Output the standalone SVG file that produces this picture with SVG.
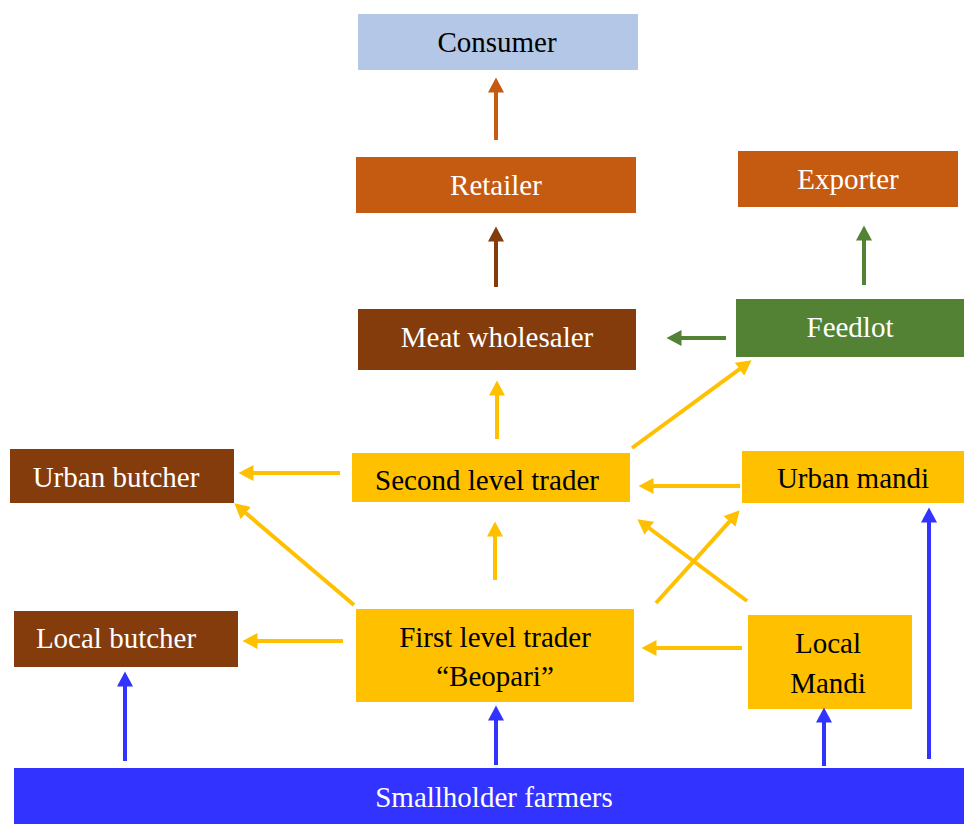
<svg xmlns="http://www.w3.org/2000/svg" width="964" height="824" viewBox="0 0 964 824">
<style>
text{font-family:"Liberation Serif","Times New Roman",serif;font-size:29px;text-anchor:middle}
.w{fill:#FFFFFF}.k{fill:#000000}
.c line{stroke-width:4;fill:none}
.o{stroke:#C55A11}.b{stroke:#843C0C}.g{stroke:#548235}.y{stroke:#FFC000}.u{stroke:#3333FF}
</style>
<defs>
<marker id="mo" markerUnits="userSpaceOnUse" markerWidth="16" markerHeight="16" refX="0.5" refY="8" orient="auto"><path d="M0,0 L15,8 L0,16 z" fill="#C55A11"/></marker>
<marker id="mb" markerUnits="userSpaceOnUse" markerWidth="16" markerHeight="16" refX="0.5" refY="8" orient="auto"><path d="M0,0 L15,8 L0,16 z" fill="#843C0C"/></marker>
<marker id="mg" markerUnits="userSpaceOnUse" markerWidth="16" markerHeight="16" refX="0.5" refY="8" orient="auto"><path d="M0,0 L15,8 L0,16 z" fill="#548235"/></marker>
<marker id="my" markerUnits="userSpaceOnUse" markerWidth="16" markerHeight="16" refX="0.5" refY="8" orient="auto"><path d="M0,0 L15,8 L0,16 z" fill="#FFC000"/></marker>
<marker id="mu" markerUnits="userSpaceOnUse" markerWidth="16" markerHeight="16" refX="0.5" refY="8" orient="auto"><path d="M0,0 L15,8 L0,16 z" fill="#3333FF"/></marker>
</defs>
<rect width="964" height="824" fill="#FFFFFF"/>
<g id="consumer"><rect x="358" y="14" width="280" height="56" fill="#B4C7E7"/><text class="k" x="497" y="52">Consumer</text></g>
<g id="retailer"><rect x="356" y="157" width="280" height="56" fill="#C55A11"/><text class="w" x="496" y="195">Retailer</text></g>
<g id="exporter"><rect x="738" y="151" width="220" height="56" fill="#C55A11"/><text class="w" x="848" y="189">Exporter</text></g>
<g id="meat-wholesaler"><rect x="358" y="309" width="278" height="61" fill="#843C0C"/><text class="w" x="497" y="347">Meat wholesaler</text></g>
<g id="feedlot"><rect x="736" y="299" width="228" height="58" fill="#548235"/><text class="w" x="850" y="337">Feedlot</text></g>
<g id="urban-butcher"><rect x="10" y="449" width="224" height="54" fill="#843C0C"/><text class="w" x="116" y="487">Urban butcher</text></g>
<g id="second-level-trader"><rect x="352" y="453" width="278" height="49" fill="#FFC000"/><text class="k" x="487" y="490">Second level trader</text></g>
<g id="urban-mandi"><rect x="742" y="451" width="222" height="52" fill="#FFC000"/><text class="k" x="853" y="488">Urban mandi</text></g>
<g id="local-butcher"><rect x="14" y="611" width="224" height="56" fill="#843C0C"/><text class="w" x="116" y="648">Local butcher</text></g>
<g id="first-level-trader"><rect x="356" y="609" width="278" height="93" fill="#FFC000"/><text class="k" x="495" y="647">First level trader</text><text class="k" x="495" y="686">“Beopari”</text></g>
<g id="local-mandi"><rect x="748" y="615" width="164" height="94" fill="#FFC000"/><text class="k" x="828" y="653">Local</text><text class="k" x="828" y="693">Mandi</text></g>
<g id="smallholder-farmers"><rect x="14" y="768" width="950" height="56" fill="#3333FF"/><text class="w" x="494" y="807">Smallholder farmers</text></g>
<g id="connectors" class="c">
<line class="o" x1="496" y1="140" x2="496" y2="92" marker-end="url(#mo)"/>
<line class="b" x1="496" y1="287" x2="496" y2="241" marker-end="url(#mb)"/>
<line class="g" x1="864" y1="285" x2="864" y2="240" marker-end="url(#mg)"/>
<line class="g" x1="726" y1="338" x2="681" y2="338" marker-end="url(#mg)"/>
<line class="y" x1="497" y1="439" x2="497" y2="395" marker-end="url(#my)"/>
<line class="y" x1="632" y1="448" x2="739.9" y2="368.9" marker-end="url(#my)"/>
<line class="y" x1="740" y1="486" x2="653" y2="486" marker-end="url(#my)"/>
<line class="y" x1="340" y1="473" x2="253" y2="473" marker-end="url(#my)"/>
<line class="y" x1="354" y1="605" x2="245.4" y2="512.7" marker-end="url(#my)"/>
<line class="y" x1="343" y1="641" x2="257" y2="641" marker-end="url(#my)"/>
<line class="y" x1="495" y1="580" x2="495" y2="536" marker-end="url(#my)"/>
<line class="y" x1="742" y1="648" x2="656" y2="648" marker-end="url(#my)"/>
<line class="y" x1="747" y1="601" x2="649" y2="528" marker-end="url(#my)"/>
<line class="y" x1="656" y1="603" x2="729.9" y2="521.1" marker-end="url(#my)"/>
<line class="u" x1="125" y1="761" x2="125" y2="686" marker-end="url(#mu)"/>
<line class="u" x1="496" y1="765" x2="496" y2="720" marker-end="url(#mu)"/>
<line class="u" x1="824" y1="766" x2="824" y2="722" marker-end="url(#mu)"/>
<line class="u" x1="929" y1="759" x2="929" y2="522" marker-end="url(#mu)"/>
</g>
</svg>
